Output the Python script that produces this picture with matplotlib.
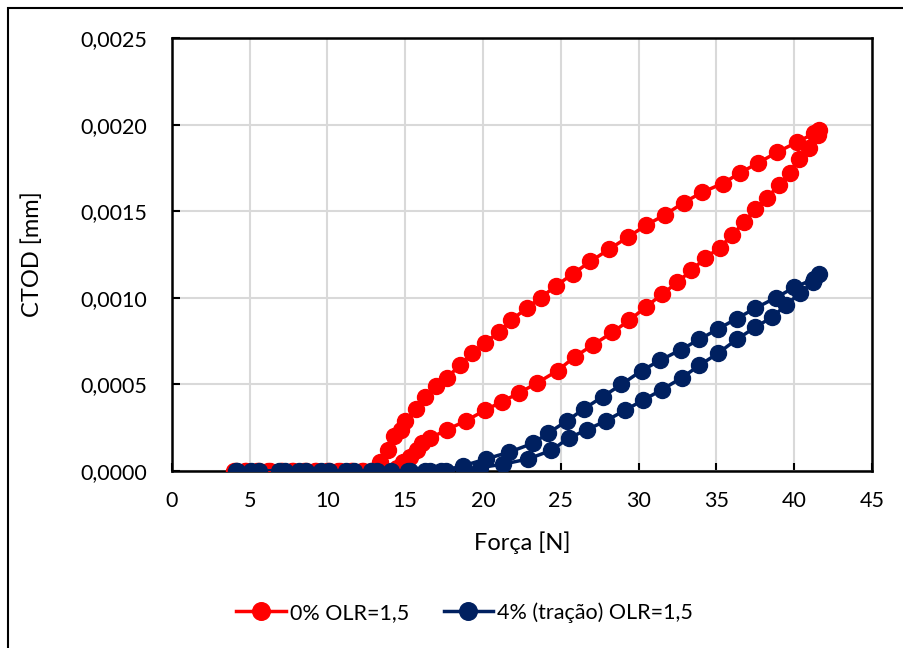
import matplotlib
matplotlib.use("Agg")
import matplotlib.pyplot as plt
from matplotlib.ticker import FuncFormatter, MultipleLocator
from matplotlib.patches import Rectangle

plt.rcParams['font.family'] = ['Lato', 'DejaVu Sans']

# 0% OLR=1,5  (loading then unloading)
red_x = [4.0, 4.7, 5.5, 6.2, 7.0, 7.7, 8.5, 9.2, 10.0, 10.7, 11.5, 12.2, 12.8,
         13.4, 13.9, 14.3, 14.7, 15.0, 15.7, 16.3, 17.0, 17.7, 18.5, 19.3, 20.1,
         21.0, 21.8, 22.8, 23.7, 24.7, 25.8, 26.9, 28.1, 29.3, 30.5, 31.7, 32.9,
         34.1, 35.4, 36.5, 37.7, 38.9, 40.2, 41.3, 41.6,
         41.5, 40.95, 40.3, 39.7, 39.0, 38.25, 37.5, 36.8, 36.0, 35.2, 34.3, 33.4,
         32.5, 31.5, 30.5, 29.4, 28.3, 27.1, 25.9, 24.8, 23.5, 22.3, 21.2, 20.1,
         18.9, 17.7, 16.6, 16.1, 15.75, 15.3, 14.85, 14.5,
         13.8, 13.0, 12.3, 11.6, 10.8, 10.1, 9.3, 8.6, 7.8, 7.1, 6.3, 5.6, 4.8, 4.1]
red_y = [0, 0, 0, 0, 0, 0, 0, 0, 0, 0, 0, 0, 0,
         0.00005, 0.00012, 0.00020, 0.00024, 0.00029, 0.00036, 0.00043, 0.00049,
         0.00054, 0.00061, 0.00068, 0.00074, 0.00080, 0.00087, 0.00094, 0.00100,
         0.00107, 0.00114, 0.00121, 0.00128, 0.00135, 0.00142, 0.00148, 0.00155,
         0.00161, 0.00166, 0.00172, 0.00178, 0.00184, 0.00190, 0.00195, 0.00197,
         0.00194, 0.001865, 0.00180, 0.00172, 0.00165, 0.001576, 0.00151, 0.00144,
         0.00136, 0.00129, 0.00123, 0.00116, 0.00109, 0.00102, 0.00095, 0.00087,
         0.00080, 0.00073, 0.00066, 0.00058, 0.00051, 0.00045, 0.00040, 0.00035,
         0.00029, 0.00024, 0.00019, 0.00016, 0.00012, 0.00008, 0.00005, 0.00002,
         0, 0, 0, 0, 0, 0, 0, 0, 0, 0, 0, 0, 0, 0]

# 4% (tracao) OLR=1,5
blue_x = [4.1, 5.6, 7.3, 8.6, 10.1, 11.7, 13.2, 14.1, 15.2, 16.6, 17.3,
          18.7, 20.2, 21.7, 23.2, 24.2, 25.4, 26.5, 27.7, 28.9, 30.2, 31.4, 32.7,
          33.9, 35.1, 36.3, 37.5, 38.8, 40.0, 41.3, 41.6,
          41.2, 40.4, 39.5, 38.6, 37.5, 36.3, 35.1, 33.9, 32.8, 31.5, 30.3, 29.1,
          27.9, 26.7, 25.5, 24.4, 22.9, 21.3, 19.8,
          18.8, 17.6, 16.3, 15.3, 12.8, 11.2, 9.6, 8.2, 6.9, 5.1, 4.2]
blue_y = [0, 0, 0, 0, 0, 0, 0, 0, 0, 0, 0,
          0.00003, 0.00007, 0.00011, 0.00016, 0.00022, 0.00029, 0.00036, 0.00043,
          0.00050, 0.00058, 0.00064, 0.00070, 0.00076, 0.00082, 0.00088, 0.00094,
          0.00100, 0.00106, 0.00111, 0.00114,
          0.00109, 0.00103, 0.00096, 0.00089, 0.00083, 0.00076, 0.00068, 0.00061,
          0.00054, 0.00047, 0.00041, 0.00035, 0.00029, 0.00024, 0.00019, 0.00012,
          0.00007, 0.00004, 0.00002,
          0, 0, 0, 0, 0, 0, 0, 0, 0, 0, 0]

fig = plt.figure(figsize=(9.04, 6.48), dpi=100)
ax = fig.add_axes([0.190, 0.273, 0.7746, 0.6684])

ax.plot(red_x, red_y, color='#FF0000', lw=2.5, marker='o', ms=11.5,
        label='0% OLR=1,5', zorder=3)
ax.plot(blue_x, blue_y, color='#002060', lw=2.5, marker='o', ms=11.5,
        label='4% (tração) OLR=1,5', zorder=4)

ax.set_xlim(0, 45)
ax.set_ylim(0, 0.0025)
ax.xaxis.set_major_locator(MultipleLocator(5))
ax.yaxis.set_major_locator(MultipleLocator(0.0005))
ax.yaxis.set_major_formatter(FuncFormatter(lambda v, p: f"{v:.4f}".replace('.', ',')))
ax.grid(True, color='#D9D9D9', lw=1.5)
ax.set_axisbelow(True)
for s in ax.spines.values():
    s.set_color('black')
    s.set_linewidth(1.8)
ax.tick_params(direction='in', length=6, width=1.5, labelsize=15.5)
ax.tick_params(axis='y', pad=18)
ax.tick_params(axis='x', pad=14)

ax.set_xlabel('Força [N]', fontsize=17)
ax.set_ylabel('CTOD [mm]', fontsize=17)
ax.xaxis.set_label_coords(0.5, -0.139)
ax.yaxis.set_label_coords(-0.184, 0.5)

fig.legend(loc='center', bbox_to_anchor=(0.514, 0.055), ncol=2, frameon=False,
           fontsize=15.5, handlelength=2.3, columnspacing=1.6, handletextpad=0.2,
           markerscale=1.1)

fig.patches.append(Rectangle((0.009, -0.1), 1.1, 1.088, transform=fig.transFigure,
                             fill=False, edgecolor='black', lw=1.5))

fig.savefig('out.png', dpi=100)
